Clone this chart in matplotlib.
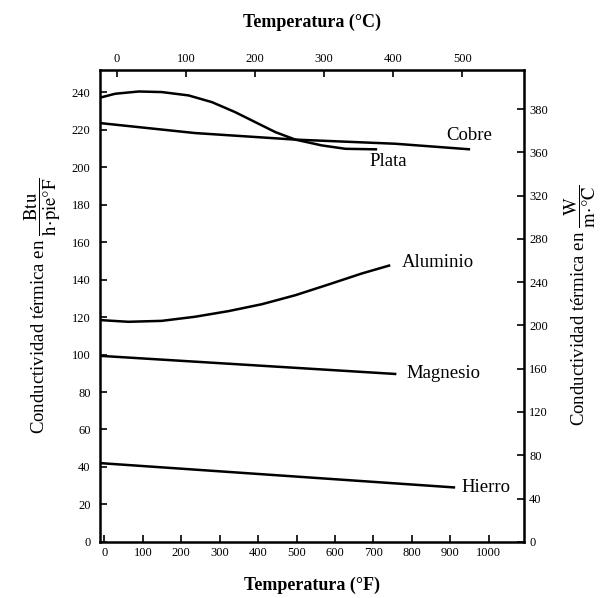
import matplotlib
matplotlib.use("Agg")
import matplotlib.pyplot as plt

plt.rcParams['font.family'] = ['Liberation Serif', 'DejaVu Serif']
plt.rcParams['mathtext.fontset'] = 'stix'

# temperatura en °F, conductividad en Btu/(h pie °F)
plata_t = [-10, 28, 89, 149, 219, 280, 340, 392, 445, 497, 566, 627, 710]
plata_k = [237.3, 239.3, 240.5, 240.2, 238.4, 234.8, 229.5, 224.2, 218.8,
           214.8, 211.7, 209.9, 209.6]

cobre_t = [-10, 236, 497, 757, 952]
cobre_k = [223.6, 218.3, 214.8, 212.6, 209.6]

aluminio_t = [-10, 62, 149, 236, 323, 410, 497, 583, 670, 744]
aluminio_k = [118.4, 117.5, 118.0, 120.2, 123.2, 126.9, 131.7, 137.4, 143.3, 147.7]

magnesio_t = [-10, 760]
magnesio_k = [99.3, 89.6]

hierro_t = [-10, 913]
hierro_k = [42.0, 29.0]

f_ticks = [0, 100, 200, 300, 400, 500, 600, 700, 800, 900, 1000]
c_ticks = [0, 100, 200, 300, 400, 500]
btu_ticks = [0, 20, 40, 60, 80, 100, 120, 140, 160, 180, 200, 220, 240]
w_ticks = [0, 40, 80, 120, 160, 200, 240, 280, 320, 360, 400]
w_labels = ['0', '40', '80', '120', '160', '200', '240', '280', '320', '360', '380']

BTU_TO_W = 1.7307


def f_to_c(f):
    return (f - 32) / 1.8


def c_to_f(c):
    return c * 1.8 + 32


fig = plt.figure(figsize=(6.04, 5.98), dpi=100)
ax = fig.add_axes([0.166, 0.094, 0.702, 0.789])

for t, k in [(plata_t, plata_k), (cobre_t, cobre_k), (aluminio_t, aluminio_k),
             (magnesio_t, magnesio_k), (hierro_t, hierro_k)]:
    ax.plot(t, k, color='black', linewidth=1.8, solid_capstyle='butt',
            solid_joinstyle='round')

ax.set_xlim(-11, 1093)
ax.set_ylim(0, 252)

ax.set_xticks(f_ticks)
ax.set_yticks(btu_ticks)
ax.tick_params(direction='in', length=5, width=1.2, labelsize=9)
ax.tick_params(axis='y', pad=7)
for s in ax.spines.values():
    s.set_linewidth(1.8)

lbl = dict(fontsize=13.5, color='black', va='center', ha='left')
ax.text(890, 217, 'Cobre', **lbl)
ax.text(690, 203, 'Plata', **lbl)
ax.text(775, 149, 'Aluminio', **lbl)
ax.text(786, 90, 'Magnesio', **lbl)
ax.text(930, 29, 'Hierro', **lbl)

top = ax.secondary_xaxis('top', functions=(f_to_c, c_to_f))
top.set_xticks(c_ticks)
top.tick_params(direction='in', length=5, width=1.2, labelsize=9)

right = ax.secondary_yaxis('right', functions=(lambda b: b * BTU_TO_W,
                                               lambda w: w / BTU_TO_W))
right.set_yticks(w_ticks)
right.set_yticklabels(w_labels)
right.tick_params(direction='in', length=5, width=1.2, labelsize=9)

ax.set_xlabel('Temperatura (°F)', fontsize=13, fontweight='bold', labelpad=13)
top.set_xlabel('Temperatura (°C)', fontsize=13, fontweight='bold', labelpad=19)
ax.set_ylabel(r'Conductividad térmica en $\dfrac{\mathrm{Btu}}{\mathrm{h\!\cdot\!pie°F}}$',
              fontsize=13.5, labelpad=6)
right.set_ylabel(r'Conductividad térmica en $\dfrac{\mathrm{W}}{\mathrm{m\!\cdot\!°C}}$',
                 fontsize=13.5, labelpad=10)

fig.savefig('out.png', dpi=100)
